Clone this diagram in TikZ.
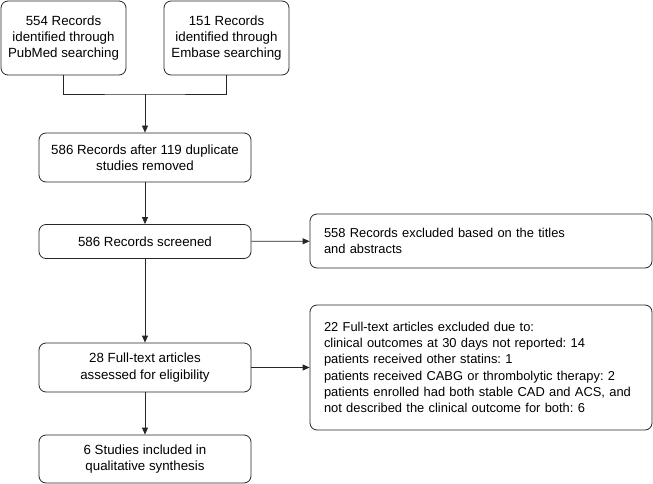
\documentclass[tikz,border=0pt]{standalone}
\usepackage{fontspec}
\setmainfont{Liberation Sans}
\usepackage{tikz}
\usetikzlibrary{arrows.meta}

\begin{document}
\begin{tikzpicture}[x=1pt,y=-1pt,
			box/.style={draw=black!85,line width=0.8pt,rounded corners=7pt,align=center,inner sep=2pt,font=\fontsize{13.3}{16.3}\selectfont\frenchspacing},
			wbox/.style={box,align=left,inner xsep=14pt,text width=314pt,font=\fontsize{12.9}{16.3}\selectfont\frenchspacing},
			arr/.style={draw=black!85,line width=0.8pt,-{Triangle[length=7pt,width=6pt]}}]
			\useasboundingbox (0,0) rectangle (653,484);
			
			\node[box,minimum width=125pt,minimum height=74pt] (pubmed) at (63.5,38) {554 Records\\identified through\\PubMed searching};
			\node[box,minimum width=125pt,minimum height=74pt] (embase) at (226.5,38) {151 Records\\identified through\\Embase searching};
			\node[box,minimum width=212pt,minimum height=49pt] (dupl) at (145,157.5) {586 Records after 119 duplicate\\studies removed};
			\node[box,minimum width=212pt,minimum height=34pt] (screen) at (145,241.5) {586 Records screened};
			\node[box,minimum width=212pt,minimum height=49pt] (full) at (145,367.5) {28 Full-text articles\\assessed for eligibility};
			\node[box,minimum width=212pt,minimum height=48pt] (incl) at (145,459) {6 Studies included in\\qualitative synthesis};
			
			\node[wbox,minimum height=54pt] (excl1) at (481,241) {558 Records excluded based on the titles\\and abstracts};
			\node[wbox,minimum height=125pt] (excl2) at (481,367.5) {22 Full-text articles excluded due to:\\
				clinical outcomes at 30 days not reported: 14\\
				patients received other statins: 1\\
				patients received CABG or thrombolytic therapy: 2\\
				patients enrolled had both stable CAD and ACS, and\\
				not described the clinical outcome for both: 6};
			
			\coordinate (join) at (145,94);
			\draw[draw=black!85,line width=0.8pt] (pubmed.south) |- (join) -| (embase.south);
			\draw[arr] (join) -- (dupl.north);
			\draw[arr] (dupl) -- (screen);
			\draw[arr] (screen) -- (full);
			\draw[arr] (full) -- (incl);
			\draw[arr] (screen) -- (excl1);
			\draw[arr] (full) -- (excl2);
		\end{tikzpicture}
\end{document}
